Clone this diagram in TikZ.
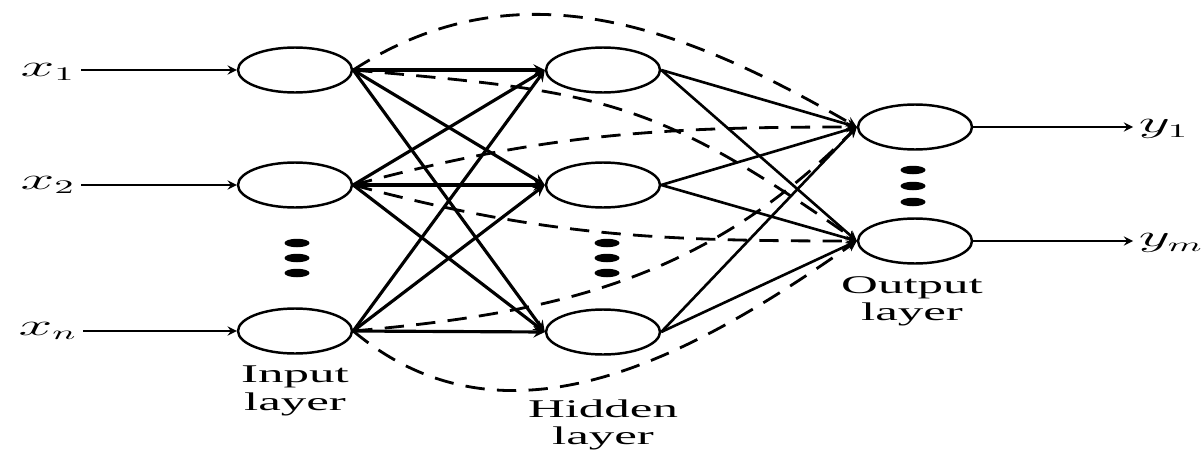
\documentclass[tikz,border=0pt]{standalone}
\usepackage{fontspec}
\setmainfont{Liberation Serif}
\usetikzlibrary{shapes.geometric}

\begin{document}
\begin{tikzpicture}[
            x=0.02cm, y=0.02cm, >=stealth,
            neuron/.style={ellipse, draw, line width=1.4pt, minimum width=2.28cm, minimum height=0.9cm, inner sep=0pt},
            dot/.style={ellipse, fill=black, minimum width=0.5cm, minimum height=0.17cm, inner sep=0pt},
            lab/.style={font=\fontsize{14.5}{15.5}\selectfont, align=center, xscale=2},
            var/.style={font=\fontsize{16}{18}\selectfont, xscale=2, inner xsep=1.5pt, inner ysep=0pt},
            feed/.style={->, line width=1.3pt},
            wire/.style={->, line width=1.8pt},
            skip/.style={->, line width=1.6pt, dash pattern=on 11pt off 7pt}
        ]
        \useasboundingbox (0,0) rectangle (1203,-453);

        % neurons
        \node[neuron] (i1) at (295,-70)  {};
        \node[neuron] (i2) at (295,-185) {};
        \node[neuron] (in) at (295,-331) {};

        \node[neuron] (h1) at (603,-70)  {};
        \node[neuron] (h2) at (603,-185) {};
        \node[neuron] (hn) at (603,-332) {};

        \node[neuron] (o1) at (915,-127) {};
        \node[neuron] (om) at (915,-241) {};

        % inputs and outputs
        \node[var] (x1) at (48,-72)  {$x_1$};
        \node[var] (x2) at (48,-185) {$x_2$};
        \node[var] (xn) at (48,-331) {$x_n$};

        \node[var, anchor=west] (y1) at (1133,-129) {$y_1$};
        \node[var, anchor=west] (ym) at (1133,-243) {$y_m$};

        \draw[feed] (x1.east |- i1.west) -- (i1.west);
        \draw[feed] (x2.east |- i2.west) -- (i2.west);
        \draw[feed] (xn.east |- in.west) -- (in.west);

        \draw[feed] (o1.east) -- (y1.west |- o1.east);
        \draw[feed] (om.east) -- (ym.west |- om.east);

        % input -> hidden
        \draw[wire] (i1.east) -- (h1.west);
        \draw[wire] (i1.east) -- (h2.west);
        \draw[wire] (i1.east) -- (hn.west);
        \draw[wire] (i2.east) -- (h1.west);
        \draw[wire] (i2.east) -- (h2.west);
        \draw[wire] (i2.east) -- (hn.west);
        \draw[wire] (in.east) -- (h1.west);
        \draw[wire] (in.east) -- (h2.west);
        \draw[wire] (in.east) -- (hn.west);

        % hidden -> output
        \draw[wire, line width=1.5pt] (h1.east) -- (o1.west);
        \draw[wire, line width=1.5pt] (h1.east) -- (om.west);
        \draw[wire, line width=1.5pt] (h2.east) -- (o1.west);
        \draw[wire, line width=1.5pt] (h2.east) -- (om.west);
        \draw[wire, line width=1.5pt] (hn.east) -- (o1.west);
        \draw[wire, line width=1.5pt] (hn.east) -- (om.west);

        % input -> output (dashed)
        \draw[skip] (i1.east) to[out=33, in=150] (o1.west);
        \draw[skip] (i1.east) to[out=-5, in=145, looseness=1.2] (om.west);
        \draw[skip] (i2.east) to[out=15, in=180] (o1.west);
        \draw[skip] (i2.east) to[out=-15, in=180] (om.west);
        \draw[skip] (in.east) to[out=5, in=225] (o1.west);
        \draw[skip] (in.east) to[out=-40, in=215] (om.west);

        % dots
        \node[dot] (id1) at (297,-243) {};
        \node[dot] (id2) at (297,-258) {};
        \node[dot] (id3) at (297,-273) {};

        \node[dot] (hd1) at (607,-243) {};
        \node[dot] (hd2) at (607,-258) {};
        \node[dot] (hd3) at (607,-273) {};

        \node[dot] (od1) at (913,-170) {};
        \node[dot] (od2) at (913,-186) {};
        \node[dot] (od3) at (913,-202) {};

        % layer names
        \node[lab] (inlab)  at (295,-391) {Input\\layer};
        \node[lab] (hidlab) at (603,-425) {Hidden\\layer};
        \node[lab] (outlab) at (912,-301) {Output\\layer};
    \end{tikzpicture}
\end{document}
